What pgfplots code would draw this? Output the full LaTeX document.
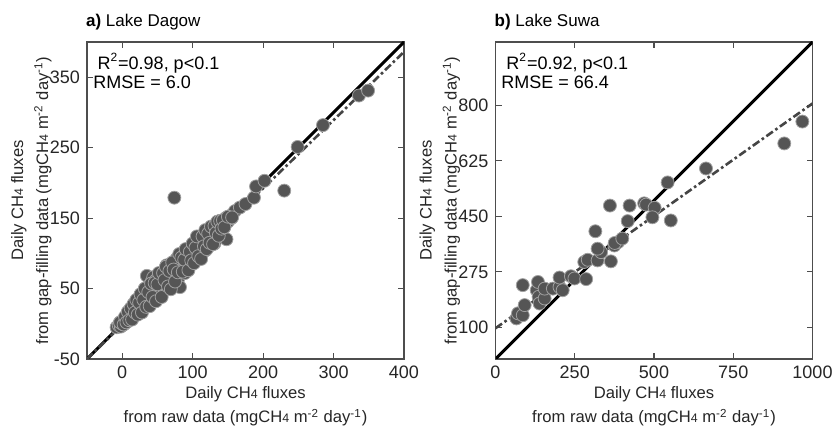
\documentclass[border=0pt]{standalone}
\usepackage{fontspec}
\setmainfont{Liberation Sans}
\usepackage{pgfplots}
\pgfplotsset{compat=1.18}

\definecolor{mface}{HTML}{555555}
\definecolor{medge}{HTML}{A0A0A0}
\definecolor{axgray}{HTML}{4D4D4D}
\definecolor{dashgray}{HTML}{454545}

\pgfplotsset{
  myax/.style={
    width=158.5pt, height=158.5pt, scale only axis,
    axis line style={axgray, line width=0.6pt},
    tick style={axgray, line width=0.6pt},
    tick align=inside, major tick length=3pt,
    ticklabel style={font=\fontsize{9}{10}\selectfont, text=black!85},
    xlabel style={font=\fontsize{8.3}{12}\selectfont, align=center, text=black!85,
      at={(axis description cs:0.5,0)}, anchor=north, yshift=-10.4pt},
    ylabel style={font=\fontsize{8.3}{12.5}\selectfont, align=center, text=black!85,
      at={(axis description cs:-0.0895,0.5)}, anchor=south, rotate=0},
    title style={font=\fontsize{8.5}{9}\selectfont, at={(axis description cs:-0.025,1)},
      anchor=west, yshift=4pt},
    clip=true,
  },
  pts/.style={only marks, mark=*, mark size=3.25pt,
    mark options={fill=mface, draw=medge, line width=0.4pt}},
  oneone/.style={black, line width=1.5pt, no marks},
  fitline/.style={dashgray, line width=1.3pt, no marks,
    dash pattern=on 4pt off 1.5pt on 1.3pt off 1.5pt},
}
\newcommand{\chf}{CH{\fontsize{6.2}{7}\selectfont 4}}

\begin{document}
\begin{tikzpicture}
\useasboundingbox (0,0) rectangle (418pt,213.5pt);

% ---------------- panel a ----------------
\begin{axis}[myax,
  at={(43.5pt,34pt)}, anchor=south west,
  xmin=-50, xmax=400, ymin=-50, ymax=400,
  xtick={0,100,200,300,400}, xticklabels={0,100,200,300,400},
  ytick={-50,50,150,250,350}, yticklabels={-50,50,150,250,350},
  title={\textbf{a)} Lake Dagow},
  xlabel={Daily \chf{} fluxes\\from raw data (mg\chf{} m\textsuperscript{-2} day\textsuperscript{-1})},
  ylabel={Daily \chf{} fluxes\\from gap-filling data (mg\chf{} m\textsuperscript{-2} day\textsuperscript{-1})},
]
\addplot[pts] coordinates {
(-8,-5)(-5,-2)(-3,2)(-2,-4)(0,0)(1,4)(2,-1)(3,6)(4,2)(5,8)(6,3)(7,10)(8,5)(9,12)(10,7)
(11,15)(12,9)(13,18)(14,11)(15,20)(16,14)(17,24)(18,16)(19,26)(20,13)(21,22)(22,30)
(23,18)(24,27)(25,34)(26,21)(27,31)(28,38)(29,25)(30,35)(31,44)(32,28)(33,40)(35,68)
(35,32)(36,50)(37,42)(38,30)(39,55)(40,46)(41,36)(42,60)(43,50)(44,66)(45,40)(46,55)
(47,48)(48,62)(50,52)(52,44)(53,70)(54,47)(55,58)(56,64)(58,54)(59,72)(60,62)(61,50)
(63,83)(64,66)(65,74)(66,58)(68,78)(69,68)(70,60)(71,84)(72,74)(73,66)(74,88)(75,78)
(76,70)(77,92)(78,82)(79,62)(80,86)(82,52)(82,76)(83,94)(84,88)(86,80)(87,98)(88,90)
(89,72)(90,100)(91,94)(92,104)(93,84)(95,98)(96,108)(97,90)(99,102)(100,96)(101,110)
(103,104)(104,92)(105,112)(106,100)(108,114)(109,106)(110,113)(111,98)(112,116)
(114,108)(115,120)(117,112)(118,104)(119,124)(120,116)(122,126)(123,110)(124,120)
(126,130)(127,132)(128,122)(130,128)(131,114)(133,138)(134,126)(136,142)(137,132)
(139,146)(140,134)(142,140)(145,138)(148,120)(147,150)(150,145)(153,153)(155,150)
(160,160)(167,165)(175,170)(187,179)(190,195)(202,203)(249,251)(285,282)(336,324)
(349,331)(230,189)(74,179)
(-3,2)(2,-1)(4,10)(6,2)(8,17)(10,5)(12,22)(14,6)(16,28)(18,16)(20,34)(22,13)(24,30)
(26,42)(28,16)(30,34)(32,50)(34,24)(37,45)(39,25)(41,57)(43,38)(46,58)(48,32)(50,56)
(52,72)(56,38)(58,72)(60,62)(62,81)(65,53)(67,75)(69,49)(71,87)(73,77)(75,60)(79,73)
(81,99)(84,94)(86,74)(88,91)(90,106)(94,76)(96,102)(98,90)(100,114)(102,86)(104,108)
(106,124)(108,96)(112,92)(114,124)(116,110)(118,133)(120,106)(122,128)(124,115)
(126,138)(129,113)(131,139)(133,129)(135,145)(137,125)(139,146)(141,135)(143,147)
(145,137)(150,152)(156,151)
};
\addplot[oneone] coordinates {(-50,-50)(400,400)};
\addplot[fitline] coordinates {(-50,-50.1)(400,386)};
\node[anchor=west, inner sep=0pt, font=\fontsize{9}{10}\selectfont]
  at (axis description cs:0.032,0.934) {R\textsuperscript{2}=0.98, p<0.1};
\node[anchor=west, inner sep=0pt, font=\fontsize{9}{10}\selectfont]
  at (axis description cs:0.019,0.874) {RMSE = 6.0};
\end{axis}

% ---------------- panel b ----------------
\begin{axis}[myax,
  at={(247.75pt,34pt)}, anchor=south west,
  xmin=0, xmax=1000, ymin=0, ymax=1000,
  xtick={0,250,500,750,1000}, xticklabels={0,250,500,750,1000},
  ytick={100,275,450,625,800}, yticklabels={100,275,450,625,800},
  title={\textbf{b)} Lake Suwa},
  xlabel={Daily \chf{} fluxes\\from raw data (mg\chf{} m\textsuperscript{-2} day\textsuperscript{-1})},
  ylabel={Daily \chf{} fluxes\\from gap-filling data (mg\chf{} m\textsuperscript{-2} day\textsuperscript{-1})},
]
\addplot[pts] coordinates {
(66,128)(71,144)(86,138)(92,170)(86,233)(130,217)(134,243)(136,196)(139,175)(155,191)
(155,222)(181,222)(202,227)(212,217)(202,257)(238,261)(249,254)(286,252)(280,306)
(291,313)(322,311)(333,337)(322,348)(364,308)(375,358)(387,369)(376,366)(400,380)
(315,403)(361,484)(423,484)(417,435)(469,491)(475,487)(502,477)(495,447)(553,437)
(543,557)(664,601)(911,680)(968,749)
};
\addplot[oneone] coordinates {(0,0)(1000,1000)};
\addplot[fitline] coordinates {(0,97)(1000,806)};
\node[anchor=west, inner sep=0pt, font=\fontsize{9}{10}\selectfont]
  at (axis description cs:0.033,0.934) {R\textsuperscript{2}=0.92, p<0.1};
\node[anchor=west, inner sep=0pt, font=\fontsize{9}{10}\selectfont]
  at (axis description cs:0.017,0.874) {RMSE = 66.4};
\end{axis}
\end{tikzpicture}
\end{document}
